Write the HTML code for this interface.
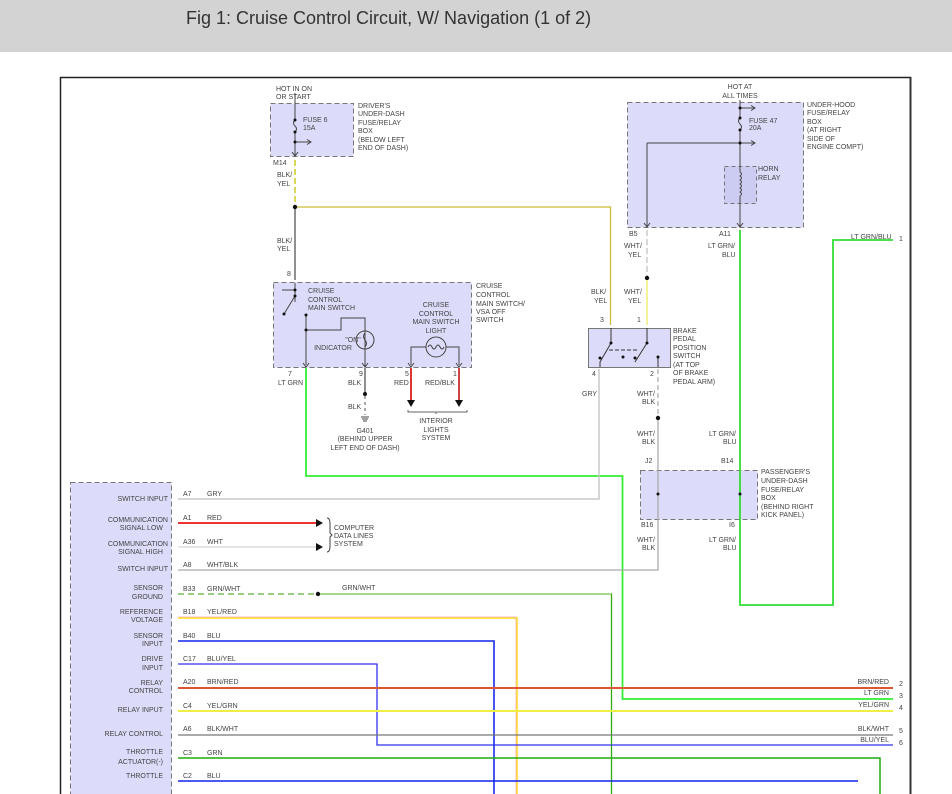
<!DOCTYPE html>
<html><head><meta charset="utf-8"><style>
html,body{margin:0;padding:0;background:#fff;width:952px;height:794px;overflow:hidden}
svg{display:block}
text{font-family:"Liberation Sans",sans-serif;font-size:7px;fill:#444}
.h{font-size:18px;fill:#333}
.r{text-anchor:end}
.c{text-anchor:middle}
</style></head><body>
<svg width="952" height="794" viewBox="0 0 952 794" xmlns="http://www.w3.org/2000/svg">
<rect x="0" y="0" width="952" height="52" fill="#d3d3d3"/>
<text x="186" y="24" class="h">Fig 1: Cruise Control Circuit, W/ Navigation (1 of 2)</text>
<path d="M60.5 794 V77.5 H910.5 V794" fill="none" stroke="#222" stroke-width="1.5"/>
<line x1="910.5" y1="77" x2="910.5" y2="794" stroke="#333" stroke-width="2"/>

<g fill="#dcdcfa" stroke="#777" stroke-dasharray="5,3">
<rect x="270.5" y="103.5" width="83" height="53"/>
<rect x="273.5" y="282.5" width="198" height="85"/>
<rect x="627.5" y="102.5" width="176" height="125"/>
<rect x="640.5" y="470.5" width="117" height="49"/>
<rect x="70.5" y="482.5" width="101" height="320"/>
</g>
<rect x="588.5" y="328.5" width="82" height="39" fill="#dcdcfa" stroke="#777"/>
<rect x="724.5" y="166.5" width="32" height="37" fill="#ccccf2" stroke="#777" stroke-dasharray="4,3"/>

<g stroke="#444" fill="none">
<path d="M295 93 V120 M295 132 V156"/>
<path d="M295 120 q-3 3 0 6 q3 3 0 6"/>
<path d="M295 142 H310"/><path d="M307 139.5 L311 142 L307 144.5"/>
<path d="M295 302 V283"/>
</g>
<circle cx="295" cy="120" r="1.5" fill="#111"/><circle cx="295" cy="132" r="1.5" fill="#111"/><circle cx="295" cy="142" r="1.5" fill="#111"/>
<path d="M292 152 L295 156 L298 152" stroke="#444" fill="none"/>
<text x="276" y="91">HOT IN ON</text><text x="276" y="99">OR START</text>
<text x="303" y="122">FUSE 6</text><text x="303" y="130">15A</text>
<text x="358" y="108">DRIVER'S</text><text x="358" y="116">UNDER-DASH</text><text x="358" y="125">FUSE/RELAY</text><text x="358" y="133">BOX</text><text x="358" y="142">(BELOW LEFT</text><text x="358" y="150">END OF DASH)</text>
<text x="273" y="165">M14</text>
<text x="277" y="177">BLK/</text><text x="277" y="186">YEL</text>
<path d="M295 160 V207" stroke="#cccc22" stroke-dasharray="6,3" stroke-width="1.5"/>
<path d="M295 207 V280" stroke="#555" stroke-width="1.3"/>
<path d="M295 207 H610.5 V325" stroke="#ccbb33" stroke-width="1.3" fill="none"/>
<circle cx="295" cy="207" r="2.2" fill="#111"/>
<text x="277" y="243">BLK/</text><text x="277" y="251">YEL</text>
<text x="287" y="276">8</text>

<text x="308" y="293">CRUISE</text><text x="308" y="302">CONTROL</text><text x="308" y="310">MAIN SWITCH</text>
<text x="476" y="288">CRUISE</text><text x="476" y="297">CONTROL</text><text x="476" y="306">MAIN SWITCH/</text><text x="476" y="314">VSA OFF</text><text x="476" y="322">SWITCH</text>
<text x="436" y="307" class="c">CRUISE</text><text x="436" y="316" class="c">CONTROL</text><text x="436" y="324" class="c">MAIN SWITCH</text><text x="436" y="333" class="c">LIGHT</text>
<text x="353" y="342" class="c">"ON"</text><text x="333" y="350" class="c">INDICATOR</text>
<g stroke="#444" fill="none">
<path d="M295 290 H282"/><path d="M295 290 V296 L284 314"/>
<path d="M306 315 V365"/><path d="M306 330 H341 V318 H365 V367"/>
<circle cx="365" cy="340" r="9"/><path d="M365 333 q-3 3.5 0 7 q3 3.5 0 7"/>
<path d="M411 365 V347 H426 M446 347 H459 V365"/>
<circle cx="436" cy="347" r="10"/><path d="M428 347 q2 -4 4 0 q2 4 4 0 q2 -4 4 0 q2 4 4 0"/>
<path d="M303 363 L306 367 L309 363 M362 363 L365 367 L368 363 M408 363 L411 367 L414 363 M456 363 L459 367 L462 363"/>
</g>
<circle cx="295" cy="290" r="1.5" fill="#111"/><circle cx="295" cy="296" r="1.5" fill="#111"/><circle cx="284" cy="314" r="1.5" fill="#111"/>
<circle cx="306" cy="315" r="1.5" fill="#111"/><circle cx="306" cy="330" r="1.5" fill="#111"/>
<text x="288" y="376">7</text><text x="278" y="385">LT GRN</text>
<text x="359" y="376">9</text><text x="348" y="385">BLK</text>
<text x="405" y="376">5</text><text x="394" y="385">RED</text>
<text x="453" y="376">1</text><text x="425" y="385">RED/BLK</text>
<path d="M306 368 V476 H622.5 V699 H893" stroke="#33ee33" stroke-width="1.8" fill="none"/>
<path d="M365 368 V394" stroke="#555" stroke-width="1.3"/>
<circle cx="365" cy="394" r="2" fill="#111"/>
<path d="M365 396 V415" stroke="#555" stroke-dasharray="3,3"/>
<path d="M361 417 H369 M362 419 H368 M363 421 H367" stroke="#444"/>
<text x="348" y="409">BLK</text>
<text x="365" y="433" class="c">G401</text><text x="365" y="441" class="c">(BEHIND UPPER</text><text x="365" y="450" class="c">LEFT END OF DASH)</text>
<path d="M411 368 V400" stroke="#e23333" stroke-width="2"/><path d="M407 400 H415 L411 407Z" fill="#111"/>
<path d="M459 368 V400" stroke="#cc4444" stroke-width="2"/><path d="M455 400 H463 L459 407Z" fill="#111"/>
<path d="M408 410 V412 H436 V414 M436 412 H467 V410" stroke="#666" fill="none"/>
<text x="436" y="423" class="c">INTERIOR</text><text x="436" y="432" class="c">LIGHTS</text><text x="436" y="440" class="c">SYSTEM</text>

<text x="740" y="89" class="c">HOT AT</text><text x="740" y="98" class="c">ALL TIMES</text>
<text x="807" y="107">UNDER-HOOD</text><text x="807" y="115">FUSE/RELAY</text><text x="807" y="124">BOX</text><text x="807" y="132">(AT RIGHT</text><text x="807" y="141">SIDE OF</text><text x="807" y="149">ENGINE COMPT)</text>
<text x="749" y="123">FUSE 47</text><text x="749" y="130">20A</text>
<text x="758" y="171">HORN</text><text x="758" y="180">RELAY</text>
<g stroke="#444" fill="none">
<path d="M740 100 V118 M740 130 V172 M740 196 V227"/>
<path d="M740 118 q-3 3 0 6 q3 3 0 6"/>
<path d="M740 172 q3 2 0 4 q3 2 0 4 q3 2 0 4 q3 2 0 4 q3 2 0 4 q3 2 0 4"/>
<path d="M740 108 H754"/><path d="M751 105.5 L755 108 L751 110.5"/>
<path d="M647 143 H755"/><path d="M751 140.5 L755 143 L751 145.5"/>
<path d="M647 143 V227"/>
<path d="M644 223 L647 227 L650 223 M737 223 L740 227 L743 223"/>
</g>
<circle cx="740" cy="108" r="1.5" fill="#111"/><circle cx="740" cy="118" r="1.5" fill="#111"/><circle cx="740" cy="130" r="1.5" fill="#111"/><circle cx="740" cy="143" r="1.5" fill="#111"/>
<text x="629" y="236">B5</text><text x="719" y="236">A11</text>
<text x="624" y="248">WHT/</text><text x="628" y="257">YEL</text>
<text x="708" y="248">LT GRN/</text><text x="722" y="257">BLU</text>
<path d="M647 230 V278" stroke="#ccc" stroke-dasharray="6,3" stroke-width="1.5"/>
<circle cx="647" cy="278" r="2.2" fill="#111"/>
<path d="M647 280 V325" stroke="#eeee77" stroke-width="1.5"/>
<text x="591" y="294">BLK/</text><text x="594" y="303">YEL</text>
<text x="624" y="294">WHT/</text><text x="628" y="303">YEL</text>
<text x="600" y="322">3</text><text x="637" y="322">1</text>
<path d="M740 230 V605 H833 V240 H893" stroke="#33dd33" stroke-width="1.8" fill="none"/>
<text x="851" y="239">LT GRN/BLU</text><text x="899" y="241">1</text>

<text x="673" y="333">BRAKE</text><text x="673" y="341">PEDAL</text><text x="673" y="350">POSITION</text><text x="673" y="358">SWITCH</text><text x="673" y="367">(AT TOP</text><text x="673" y="375">OF BRAKE</text><text x="673" y="384">PEDAL ARM)</text>
<g stroke="#333" fill="none">
<path d="M611 328 V343 L600 362 V367"/><path d="M647 328 V343 L635 362"/><path d="M609 350 H637" stroke-dasharray="4,2"/><path d="M658 357 V367"/>
</g>
<g fill="#111"><circle cx="611" cy="343" r="1.5"/><circle cx="647" cy="343" r="1.5"/><circle cx="600" cy="358" r="1.5"/><circle cx="623" cy="357" r="1.5"/><circle cx="635" cy="358" r="1.5"/><circle cx="658" cy="357" r="1.5"/></g>
<text x="592" y="376">4</text><text x="650" y="376">2</text>
<text x="582" y="396">GRY</text>
<path d="M599 369 V499 H178" stroke="#c8c8c8" stroke-width="1.5" fill="none"/>
<path d="M658 369 V417" stroke="#bbb" stroke-dasharray="5,3" stroke-width="1.5"/>
<circle cx="658" cy="418" r="2.2" fill="#111"/>
<path d="M658 420 V520 M658 520 V570 H178" stroke="#aaa" stroke-width="1.3" fill="none"/>
<text x="637" y="396">WHT/</text><text x="642" y="404">BLK</text>
<text x="637" y="436">WHT/</text><text x="642" y="444">BLK</text>
<text x="709" y="436">LT GRN/</text><text x="723" y="444">BLU</text>
<text x="645" y="463">J2</text><text x="721" y="463">B14</text>
<circle cx="658" cy="494" r="1.5" fill="#111"/><circle cx="740" cy="494" r="1.5" fill="#111"/>
<text x="641" y="527">B16</text><text x="729" y="527">I6</text>
<text x="761" y="474">PASSENGER'S</text><text x="761" y="483">UNDER-DASH</text><text x="761" y="492">FUSE/RELAY</text><text x="761" y="500">BOX</text><text x="761" y="509">(BEHIND RIGHT</text><text x="761" y="517">KICK PANEL)</text>
<text x="637" y="542">WHT/</text><text x="642" y="550">BLK</text>
<text x="709" y="542">LT GRN/</text><text x="723" y="550">BLU</text>

<g>
<text x="168" y="501" class="r">SWITCH INPUT</text>
<text x="168" y="522" class="r">COMMUNICATION</text><text x="163" y="530" class="r">SIGNAL LOW</text>
<text x="168" y="546" class="r">COMMUNICATION</text><text x="163" y="554" class="r">SIGNAL HIGH</text>
<text x="168" y="571" class="r">SWITCH INPUT</text>
<text x="163" y="590" class="r">SENSOR</text><text x="163" y="599" class="r">GROUND</text>
<text x="163" y="614" class="r">REFERENCE</text><text x="163" y="622" class="r">VOLTAGE</text>
<text x="163" y="638" class="r">SENSOR</text><text x="163" y="646" class="r">INPUT</text>
<text x="163" y="661" class="r">DRIVE</text><text x="163" y="670" class="r">INPUT</text>
<text x="163" y="685" class="r">RELAY</text><text x="163" y="693" class="r">CONTROL</text>
<text x="163" y="712" class="r">RELAY INPUT</text>
<text x="163" y="736" class="r">RELAY CONTROL</text>
<text x="163" y="754" class="r">THROTTLE</text><text x="163" y="764" class="r">ACTUATOR(-)</text>
<text x="163" y="778" class="r">THROTTLE</text>
</g>
<g>
<text x="183" y="496">A7</text><text x="207" y="496">GRY</text>
<text x="183" y="520">A1</text><text x="207" y="520">RED</text>
<text x="183" y="544">A36</text><text x="207" y="544">WHT</text>
<text x="183" y="567">A8</text><text x="207" y="567">WHT/BLK</text>
<text x="183" y="591">B33</text><text x="207" y="591">GRN/WHT</text><text x="342" y="590">GRN/WHT</text>
<text x="183" y="614">B18</text><text x="207" y="614">YEL/RED</text>
<text x="183" y="638">B40</text><text x="207" y="638">BLU</text>
<text x="183" y="661">C17</text><text x="207" y="661">BLU/YEL</text>
<text x="183" y="684">A20</text><text x="207" y="684">BRN/RED</text>
<text x="183" y="708">C4</text><text x="207" y="708">YEL/GRN</text>
<text x="183" y="731">A6</text><text x="207" y="731">BLK/WHT</text>
<text x="183" y="755">C3</text><text x="207" y="755">GRN</text>
<text x="183" y="778">C2</text><text x="207" y="778">BLU</text>
</g>
<path d="M178 523 H316" stroke="#ee3333" stroke-width="2"/><path d="M316 519 V527 L323 523Z" fill="#111"/>
<path d="M178 547 H316" stroke="#ddd" stroke-width="1.5"/><path d="M316 543 V551 L323 547Z" fill="#111"/>
<path d="M327 518 Q330 518 330 524 V533 L332 535 L330 537 V546 Q330 552 327 552" stroke="#444" fill="none"/>
<text x="334" y="530">COMPUTER</text><text x="334" y="538">DATA LINES</text><text x="334" y="546">SYSTEM</text>
<path d="M178 594 H318" stroke="#77bb55" stroke-width="1.5" stroke-dasharray="6,4"/>
<circle cx="318" cy="594" r="2.2" fill="#111"/>
<path d="M320 594 H611.5 V794" stroke="#88cc66" stroke-width="1.5" fill="none"/>
<path d="M611.5 594 V794" stroke="#33aa11" stroke-width="1"/>
<path d="M178 618 H517 V794" stroke="#ffe233" stroke-width="1.8" fill="none"/>
<path d="M178 617 H516 V794" stroke="#ffaaaa" stroke-width="0.8" fill="none"/>
<path d="M178 641 H494 V794" stroke="#3344ee" stroke-width="1.8" fill="none"/>
<path d="M178 664 H377 V745 H893" stroke="#3333ee" stroke-width="1.3" fill="none"/>
<path d="M178 688 H893" stroke="#dd5533" stroke-width="2"/>
<path d="M178 711 H893" stroke="#eeee44" stroke-width="2"/>
<path d="M178 735 H893" stroke="#777" stroke-width="1.3"/>
<path d="M178 758 H880 V794" stroke="#22aa11" stroke-width="1.5" fill="none"/>
<path d="M178 781 H858" stroke="#1122ee" stroke-width="1.5"/>
<text x="889" y="684" class="r">BRN/RED</text><text x="899" y="686">2</text>
<text x="889" y="695" class="r">LT GRN</text><text x="899" y="698">3</text>
<text x="889" y="707" class="r">YEL/GRN</text><text x="899" y="710">4</text>
<text x="889" y="731" class="r">BLK/WHT</text><text x="899" y="733">5</text>
<text x="889" y="742" class="r">BLU/YEL</text><text x="899" y="745">6</text>
</svg>
</body></html>
